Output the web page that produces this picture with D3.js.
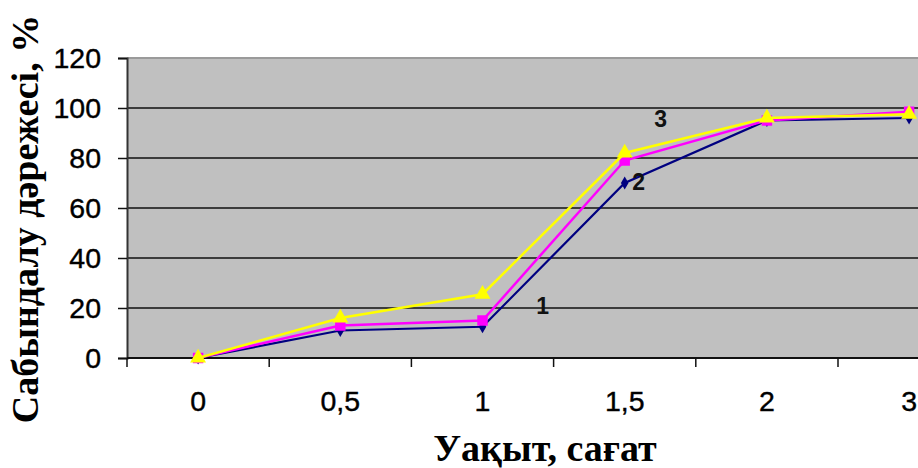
<!DOCTYPE html>
<html>
<head>
<meta charset="utf-8">
<script src="https://cdn.jsdelivr.net/npm/d3@7"></script>
<style>
  html, body { margin: 0; padding: 0; background: #ffffff; }
  svg { display: block; }
</style>
</head>
<body>
<svg id="chart" width="918" height="468"></svg>
<script>
// Time points (hours) and saponification degree (%) for three samples
const categories = ["0", "0,5", "1", "1,5", "2", "3"];
const series1 = [0, 11, 12.5, 70, 95, 96];
const series2 = [0, 13, 15, 79, 95, 98.5];
const series3 = [0, 16, 25.5, 82, 96, 97.5];
const yTicks = [0, 20, 40, 60, 80, 100, 120];
const seriesLabels = [
  { text: "1", cat: "1,5", dx: -82, value: 21 },
  { text: "2", cat: "1,5", dx: 14, value: 70.5 },
  { text: "3", cat: "1,5", dx: 36, value: 95.5 }
];

(function () {
const svg = d3.select("#chart");
const plotLeft = 127, plotTop = 58, plotBottom = 358, step = 142.2;
const plotRight = plotLeft + step * categories.length;

const x = d3.scaleBand().domain(categories).range([plotLeft, plotRight]).padding(0);
const y = d3.scaleLinear().domain([0, 120]).range([plotBottom, plotTop]);
const cx = c => x(c) + x.bandwidth() / 2;

// plot area background
svg.append("rect")
  .attr("x", plotLeft).attr("y", plotTop)
  .attr("width", plotRight - plotLeft).attr("height", plotBottom - plotTop)
  .attr("fill", "#c0c0c0");
svg.append("line")
  .attr("x1", plotLeft).attr("x2", plotRight).attr("y1", plotTop).attr("y2", plotTop)
  .attr("stroke", "#9a9a9a").attr("stroke-width", 2);

// horizontal gridlines
svg.append("g").selectAll("line")
  .data(yTicks.filter(t => t > 0 && t < 120))
  .join("line")
  .attr("x1", plotLeft).attr("x2", plotRight)
  .attr("y1", d => y(d)).attr("y2", d => y(d))
  .attr("stroke", "#111").attr("stroke-width", 1.5);

// y axis
const yAxis = svg.append("g")
  .attr("transform", `translate(${plotLeft},0)`)
  .call(d3.axisLeft(y).tickValues(yTicks).tickSize(9).tickPadding(17));
yAxis.select(".domain").attr("stroke", "#333").attr("stroke-width", 2);
yAxis.selectAll(".tick line").attr("stroke", "#111").attr("stroke-width", 1.5);
yAxis.selectAll("text")
  .attr("font-family", "Liberation Sans, Arial, sans-serif")
  .attr("font-size", 28.5).attr("fill", "#000")
  .attr("stroke", "#000").attr("stroke-width", 0.4);

// x axis: ticks sit between categories
const xAxis = svg.append("g")
  .attr("transform", `translate(0,${plotBottom})`)
  .call(d3.axisBottom(x).tickSize(0).tickPadding(33));
xAxis.select(".domain").remove();
xAxis.append("line")
  .attr("x1", plotLeft).attr("x2", plotRight).attr("y1", 0).attr("y2", 0)
  .attr("stroke", "#111").attr("stroke-width", 2);
xAxis.selectAll(".boundary")
  .data(categories)
  .join("line")
  .attr("class", "boundary")
  .attr("x1", d => x(d)).attr("x2", d => x(d))
  .attr("y1", 0).attr("y2", 9)
  .attr("stroke", "#111").attr("stroke-width", 1.5);
xAxis.selectAll(".tick text")
  .attr("font-family", "Liberation Sans, Arial, sans-serif")
  .attr("font-size", 28.5).attr("fill", "#000")
  .attr("stroke", "#000").attr("stroke-width", 0.4);

// series lines and markers
const line = d3.line().x((d, i) => cx(categories[i])).y(d => y(d));
const specs = [
  { data: series1, color: "#000080", shape: d3.symbolDiamond, size: 50, width: 2.2 },
  { data: series2, color: "#ff00ff", shape: d3.symbolSquare, size: 110, width: 2.5 },
  { data: series3, color: "#ffff00", shape: d3.symbolTriangle, size: 110, width: 2.5 }
];
specs.forEach(s => {
  svg.append("path")
    .datum(s.data)
    .attr("d", line)
    .attr("fill", "none")
    .attr("stroke", s.color)
    .attr("stroke-width", s.width);
  svg.append("g").selectAll("path")
    .data(s.data)
    .join("path")
    .attr("transform", (d, i) => `translate(${cx(categories[i])},${y(d)})`)
    .attr("d", d3.symbol().type(s.shape).size(s.size))
    .attr("fill", s.color);
});

// series numbers
svg.append("g").selectAll("text")
  .data(seriesLabels)
  .join("text")
  .attr("x", d => cx(d.cat) + d.dx)
  .attr("y", d => y(d.value))
  .attr("text-anchor", "middle")
  .attr("dominant-baseline", "central")
  .attr("font-family", "Liberation Sans, Arial, sans-serif")
  .attr("font-weight", "bold")
  .attr("font-size", 23)
  .attr("fill", "#111")
  .text(d => d.text);

// axis titles
svg.append("text")
  .attr("x", 545).attr("y", 461)
  .attr("text-anchor", "middle")
  .attr("font-family", "Liberation Serif, Times New Roman, serif")
  .attr("font-weight", "bold")
  .attr("font-size", 38)
  .attr("fill", "#000")
  .text("Уақыт, сағат");

svg.append("text")
  .attr("transform", "translate(38,219) rotate(-90)")
  .attr("text-anchor", "middle")
  .attr("font-family", "Liberation Serif, Times New Roman, serif")
  .attr("font-weight", "bold")
  .attr("font-size", 38)
  .attr("fill", "#000")
  .text("Сабындалу дәрежесі, %");
})();
</script>
</body>
</html>
